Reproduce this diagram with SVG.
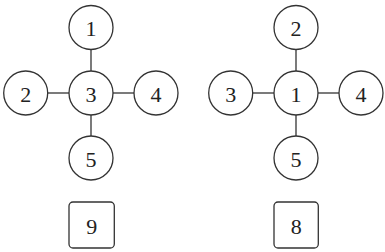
<svg xmlns="http://www.w3.org/2000/svg" width="385" height="252" viewBox="0 0 385 252">
<style>
.n circle,.n rect{fill:#fff;stroke:#333;stroke-width:1.3}
.n text{font-family:"Liberation Serif","DejaVu Serif",serif;font-size:22px;fill:#222;text-anchor:middle;dominant-baseline:central}
.c line{stroke:#333;stroke-width:1.3}
</style>
<rect width="385" height="252" fill="#fff"/>
<g class="c">
<line x1="91" y1="49.5" x2="91" y2="71"/>
<line x1="47.7" y1="93" x2="69" y2="93"/>
<line x1="113" y1="93" x2="134" y2="93"/>
<line x1="91" y1="115" x2="91" y2="136"/>
<line x1="296" y1="49.5" x2="296" y2="71"/>
<line x1="252.7" y1="93" x2="274" y2="93"/>
<line x1="318" y1="93" x2="339" y2="93"/>
<line x1="296" y1="115" x2="296" y2="136"/>
</g>
<g id="L1" class="n"><circle cx="91" cy="27.5" r="22"/><text x="91" y="28.5">1</text></g>
<g id="L2" class="n"><circle cx="25.7" cy="93" r="22"/><text x="25.7" y="94">2</text></g>
<g id="L3" class="n"><circle cx="91" cy="93" r="22"/><text x="91" y="94">3</text></g>
<g id="L4" class="n"><circle cx="156" cy="93" r="22"/><text x="156" y="94">4</text></g>
<g id="L5" class="n"><circle cx="91" cy="158" r="22"/><text x="91" y="159">5</text></g>
<g id="L9" class="n"><rect x="69" y="202" width="45.3" height="46" rx="4"/><text x="91.7" y="226">9</text></g>
<g id="R2" class="n"><circle cx="296" cy="27.5" r="22"/><text x="296" y="28.5">2</text></g>
<g id="R3" class="n"><circle cx="230.7" cy="93" r="22"/><text x="230.7" y="94">3</text></g>
<g id="R1" class="n"><circle cx="296" cy="93" r="22"/><text x="296" y="94">1</text></g>
<g id="R4" class="n"><circle cx="361" cy="93" r="22"/><text x="361" y="94">4</text></g>
<g id="R5" class="n"><circle cx="296" cy="158" r="22"/><text x="296" y="159">5</text></g>
<g id="R8" class="n"><rect x="274" y="202" width="44.3" height="46" rx="4"/><text x="296.2" y="226">8</text></g>
</svg>
